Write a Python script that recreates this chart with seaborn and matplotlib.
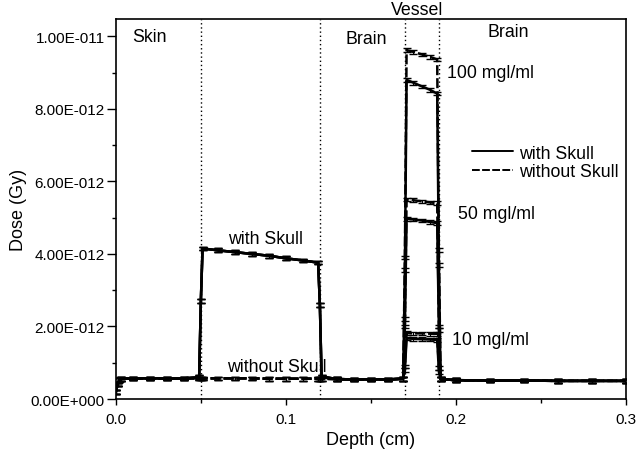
import numpy as np
import pandas as pd
import matplotlib
matplotlib.use("Agg")
import matplotlib.pyplot as plt
import seaborn as sns
from matplotlib.ticker import FuncFormatter, MultipleLocator

# depth in cm, dose in units of 1e-12 Gy
depth = [0.000, 0.001, 0.002, 0.003, 0.010, 0.020, 0.030, 0.040, 0.049, 0.050,
         0.051, 0.060, 0.070, 0.080, 0.090, 0.100, 0.110, 0.119, 0.120, 0.121,
         0.130, 0.140, 0.150, 0.160, 0.169, 0.170, 0.171, 0.175, 0.180, 0.185,
         0.189, 0.190, 0.191, 0.200, 0.220, 0.240, 0.260, 0.280, 0.300]

skull_head = [0.20, 0.40, 0.52, 0.56, 0.57, 0.57, 0.57, 0.57, 0.60, 2.70,
              4.15, 4.10, 4.05, 4.00, 3.95, 3.88, 3.82, 3.76, 2.60, 0.62,
              0.55, 0.54, 0.54, 0.54, 0.56]
noskull_head = [0.20, 0.40, 0.52, 0.56, 0.57, 0.57, 0.57, 0.57, 0.57, 0.57,
                0.57, 0.57, 0.57, 0.57, 0.56, 0.56, 0.56, 0.56, 0.56, 0.56,
                0.55, 0.54, 0.54, 0.54, 0.56]
tail = [0.55, 0.52, 0.51, 0.51, 0.50, 0.50, 0.50]

# vessel segment: depth 0.170 .. 0.190 (7 points)
vessel_with = {
    "100 mgl/ml": [3.56, 8.80, 8.72, 8.62, 8.52, 8.42, 3.70],
    "50 mgl/ml": [2.00, 4.97, 4.95, 4.92, 4.88, 4.85, 1.90],
    "10 mgl/ml": [0.80, 1.67, 1.66, 1.65, 1.64, 1.63, 0.75],
}
vessel_without = {
    "100 mgl/ml": [3.90, 9.62, 9.57, 9.50, 9.43, 9.36, 4.10],
    "50 mgl/ml": [2.20, 5.50, 5.48, 5.45, 5.42, 5.40, 2.00],
    "10 mgl/ml": [0.90, 1.82, 1.81, 1.81, 1.80, 1.80, 0.85],
}
dose_err = 0.05

x_ticks = [0.0, 0.1, 0.2, 0.3]
y_ticks = [0, 2e-12, 4e-12, 6e-12, 8e-12, 1e-11]

rows = []
for skull, head, vessel in [("with Skull", skull_head, vessel_with),
                            ("without Skull", noskull_head, vessel_without)]:
    for conc, seg in vessel.items():
        dose = head + seg + tail
        for d, v in zip(depth, dose):
            rows.append({"depth": d, "dose": v * 1e-12, "skull": skull,
                         "conc": conc})
df = pd.DataFrame(rows)

sns.set_style("ticks")
plt.rcParams["font.family"] = ["Liberation Sans", "DejaVu Sans"]
plt.rcParams.update({"text.color": "black", "axes.labelcolor": "black",
                     "xtick.color": "black", "ytick.color": "black",
                     "axes.edgecolor": "black"})

fig = plt.figure(figsize=(6.4, 4.52), dpi=100)
ax = fig.add_axes([0.181, 0.115, 0.797, 0.841])

for x in [0.05, 0.12, 0.17, 0.19]:
    ax.axvline(x, color="black", ls=(0, (1, 2)), lw=1.0, zorder=1)

sns.lineplot(data=df, x="depth", y="dose", style="skull", units="conc",
             estimator=None, color="black", lw=1.8, ax=ax,
             dashes={"with Skull": "", "without Skull": (4, 1.2)}, zorder=3)
for key, g in df.groupby(["skull", "conc"]):
    ax.errorbar(g["depth"], g["dose"], yerr=dose_err * 1e-12, fmt="none",
                ecolor="black", elinewidth=0.8, capsize=3, capthick=1.0,
                zorder=3)

ax.set_xlim(0, 0.3)
ax.set_ylim(0, 1.048e-11)
ax.set_xticks(x_ticks)
ax.set_yticks(y_ticks)
ax.xaxis.set_minor_locator(MultipleLocator(0.05))
ax.yaxis.set_minor_locator(MultipleLocator(1e-12))


def fmt(v, pos):
    if abs(v) < 1e-20:
        return "0.00E+000"
    e = int(np.floor(np.log10(abs(v)) + 1e-9))
    return f"{v / 10**e:.2f}E{e:+04d}"


ax.yaxis.set_major_formatter(FuncFormatter(fmt))
ax.xaxis.set_major_formatter(FuncFormatter(lambda v, p: f"{v:.1f}"))
ax.tick_params(which="major", width=1, labelsize=11, direction="out")
ax.tick_params(axis="x", which="major", length=4.3, pad=5)
ax.tick_params(axis="y", which="major", length=6.5, pad=1.5)
ax.tick_params(which="minor", length=3, width=1, direction="out")
for s in ax.spines.values():
    s.set_visible(True)
    s.set_linewidth(1.2)

ax.set_xlabel("Depth (cm)", fontsize=13, labelpad=4)
ax.set_ylabel("Dose (Gy)", fontsize=13, labelpad=2.5)

tk = dict(fontsize=12.8)
ax.text(0.020, 10.0e-12, "Skin", ha="center", va="center", **tk)
ax.text(0.147, 9.94e-12, "Brain", ha="center", va="center", **tk)
ax.text(0.2306, 10.14e-12, "Brain", ha="center", va="center", **tk)
ax.text(0.177, 10.74e-12, "Vessel", ha="center", va="center", clip_on=False, **tk)
ax.text(0.1947, 9.0e-12, "100 mgl/ml", ha="left", va="center", **tk)
ax.text(0.201, 5.11e-12, "50 mgl/ml", ha="left", va="center", **tk)
ax.text(0.1976, 1.63e-12, "10 mgl/ml", ha="left", va="center", **tk)
ax.text(0.088, 4.42e-12, "with Skull", ha="center", va="center", **tk)
ax.text(0.0947, 0.91e-12, "without Skull", ha="center", va="center", **tk)

handles, labels = ax.get_legend_handles_labels()
for h in handles:
    h.set_linewidth(1.4)
ax.legend(handles, labels, loc="upper left", bbox_to_anchor=(0.698, 0.669),
          frameon=False, fontsize=12.8, borderpad=0, borderaxespad=0,
          handlelength=2.3, handletextpad=0.35, labelspacing=0.1)

fig.savefig("out.png", dpi=100)
